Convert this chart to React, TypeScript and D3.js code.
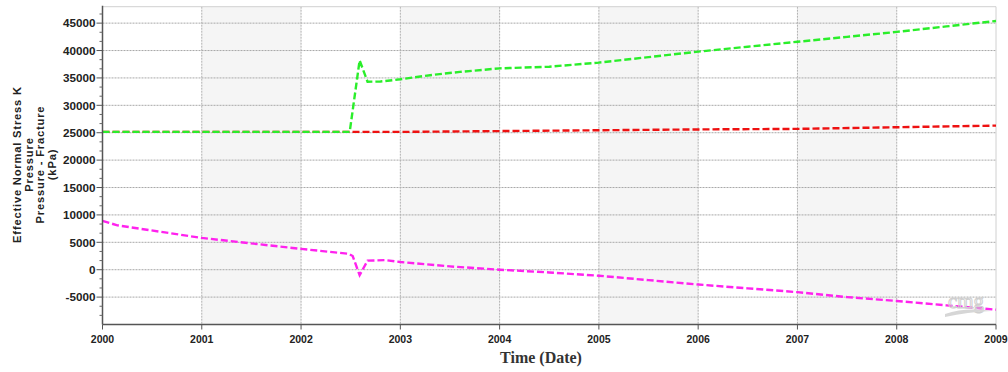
import React from "react";
import * as d3 from "d3";

const yearTicks = [2000, 2001, 2002, 2003, 2004, 2005, 2006, 2007, 2008, 2009];
const yTicks = [-5000, 0, 5000, 10000, 15000, 20000, 25000, 30000, 35000, 40000, 45000];

const greenTimes = [2000, 2002.49, 2002.59, 2002.67, 2002.8, 2003, 2003.3, 2003.6, 2004, 2004.5, 2005, 2005.5, 2006, 2006.5, 2007, 2007.5, 2008, 2008.5, 2009];
const greenValues = [25150, 25150, 38200, 34300, 34350, 34750, 35500, 36100, 36750, 37050, 37800, 38800, 39800, 40700, 41600, 42500, 43400, 44400, 45400];

const redTimes = [2000, 2003, 2004, 2005, 2006, 2007, 2008, 2009];
const redValues = [25150, 25150, 25300, 25450, 25600, 25700, 26000, 26300];

const magentaTimes = [2000, 2000.15, 2001, 2002, 2002.48, 2002.52, 2002.59, 2002.67, 2002.85, 2003, 2003.5, 2004, 2004.5, 2005, 2005.5, 2006, 2006.5, 2007, 2007.5, 2008, 2008.5, 2009];
const magentaValues = [8900, 8100, 5800, 3800, 2900, 2500, -1000, 1650, 1750, 1400, 600, 0, -500, -1100, -1900, -2700, -3400, -4100, -5000, -5700, -6500, -7300];

const seriesList = [
  { name: "Pressure", times: redTimes, values: redValues, color: "#ee1111" },
  { name: "Effective Normal Stress K", times: greenTimes, values: greenValues, color: "#2aee2a" },
  { name: "Pressure - Fracture", times: magentaTimes, values: magentaValues, color: "#ff22ee" },
];

const yTitleLines = ["Effective Normal Stress K", "Pressure", "Pressure - Fracture", "(kPa)"];

export default function App() {
  const W = 1008, H = 372;
  const left = 102.5, right = 996, top = 6.7, bottom = 324.5;
  const x = d3.scaleLinear().domain([2000, 2009]).range([left, right]);
  const y = d3.scaleLinear().domain([-10000, 48000]).range([bottom, top]);
  const line = d3.line<[number, number]>().x(d => x(d[0])).y(d => y(d[1]));

  const minorTicks: number[] = [];
  for (let v = -10000; v <= 48000; v += 5000 / 3) {
    const r = Math.round(v);
    if (r % 5000 !== 0) minorTicks.push(v);
  }

  const bands = yearTicks.slice(0, -1).filter((_, i) => i % 2 === 1);
  const font = "'Liberation Sans', Arial, sans-serif";

  return (
    <svg width={W} height={H} style={{ position: "absolute", left: 0, top: 0, background: "#fff" }}>
      {bands.map(b => (
        <rect key={b} x={x(b)} y={top} width={x(b + 1) - x(b)} height={bottom - top} fill="#f5f5f5" />
      ))}
      {yTicks.map(v => (
        <line key={"gy" + v} x1={left} x2={right} y1={y(v)} y2={y(v)} stroke="#a8a8a8" strokeWidth={1} strokeDasharray="2,1" />
      ))}
      {yearTicks.slice(1, -1).map(t => (
        <line key={"gx" + t} x1={x(t)} x2={x(t)} y1={top} y2={bottom} stroke="#b0b0b0" strokeWidth={1} strokeDasharray="2,1" />
      ))}
      <line x1={left} x2={right} y1={top} y2={top} stroke="#d0d0d0" />
      <line x1={right} x2={right} y1={top} y2={bottom} stroke="#d0d0d0" />
      {seriesList.map(s => (
        <path key={s.name} d={line(s.times.map((t, i) => [t, s.values[i]] as [number, number])) || ""}
          fill="none" stroke={s.color} strokeWidth={2.4} strokeDasharray="7,3" />
      ))}
      <g>
        <text x={966} y={308} textAnchor="middle" fontFamily="'Liberation Serif', serif" fontSize={21} fill="none" stroke="#cfcfcf" strokeWidth={1}>cmg</text>
        <path d="M945,314 Q966,307 991,311 Q968,312 945,317 Z" fill="#d6d6d6" />
      </g>
      <line x1={left} x2={left} y1={top - 1} y2={bottom} stroke="#555" strokeWidth={1.5} />
      <line x1={left} x2={right} y1={bottom} y2={bottom} stroke="#555" strokeWidth={1.5} />
      {minorTicks.map((v, i) => (
        <line key={"mt" + i} x1={left - 3} x2={left} y1={y(v)} y2={y(v)} stroke="#666" />
      ))}
      {yTicks.map(v => (
        <g key={"ty" + v}>
          <line x1={left - 6} x2={left} y1={y(v)} y2={y(v)} stroke="#555" />
          <text x={left - 7} y={y(v)} dy="0.36em" textAnchor="end" fontFamily={font} fontWeight="bold" fontSize={11.7} fill="#222">{v}</text>
        </g>
      ))}
      {yearTicks.map(t => (
        <g key={"tx" + t}>
          <line x1={x(t)} x2={x(t)} y1={bottom} y2={bottom + 5} stroke="#555" />
          <text x={x(t)} y={342.5} textAnchor="middle" fontFamily={font} fontWeight="bold" fontSize={10.5} fill="#222">{t}</text>
        </g>
      ))}
      <text x={541} y={362.5} textAnchor="middle" fontFamily="'Liberation Serif', 'Times New Roman', serif" fontWeight="bold" fontSize={16} fill="#333">Time (Date)</text>
      {yTitleLines.map((l, i) => (
        <text key={l} transform={`translate(${21 + i * 11.7},164.5) rotate(-90)`} textAnchor="middle"
          fontFamily={font} fontWeight="bold" fontSize={11.2} letterSpacing={0.8} fill="#222">{l}</text>
      ))}
    </svg>
  );
}
